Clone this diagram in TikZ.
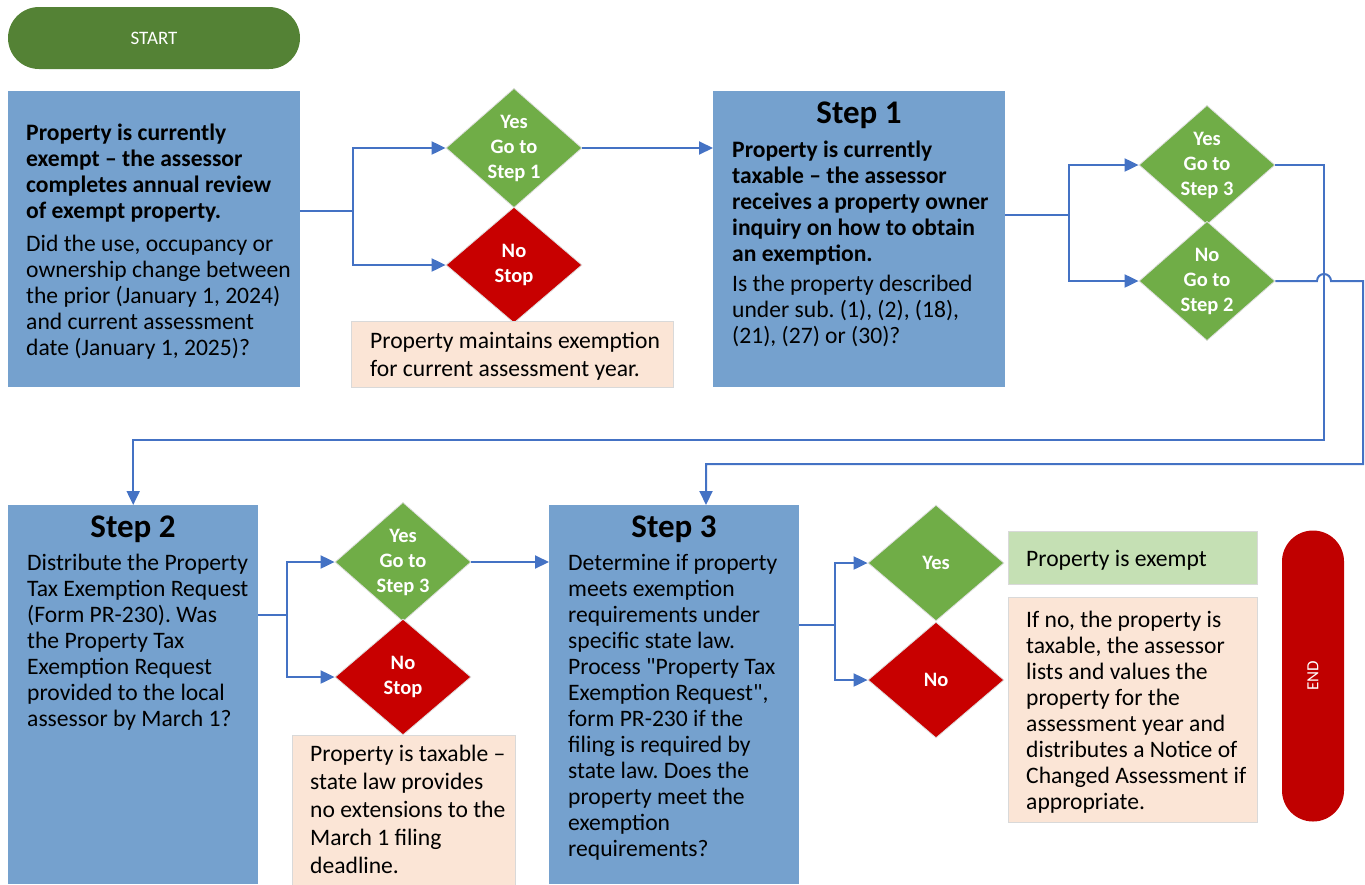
\documentclass[tikz,border=0pt]{standalone}
\usepackage{fontspec}
\setmainfont{Carlito}[Ligatures=TeXOff]
\usepackage{tikz}
\usetikzlibrary{calc}
\usetikzlibrary{arrows.meta}
\usetikzlibrary{shapes.geometric}
\frenchspacing
\definecolor{startgreen}{HTML}{548235}
\definecolor{stepblue}{HTML}{75A1CE}
\definecolor{linkblue}{HTML}{4472C4}
\definecolor{yesgreen}{HTML}{70AD47}
\definecolor{nored}{HTML}{C80000}
\definecolor{endred}{HTML}{C00000}
\definecolor{notepeach}{HTML}{FBE5D6}
\definecolor{noteline}{HTML}{D9D9D9}
\definecolor{exemptgreen}{HTML}{C5E0B4}
\tikzset{
  stepbox/.style={fill=stepblue, inner sep=0, anchor=north west},
  notebox/.style={fill=notepeach, draw=noteline, line width=1pt, inner sep=0, anchor=north west},
  pill/.style={rounded corners=31pt, inner sep=0, text=white, font=\fontsize{19}{22}\selectfont},
  body/.style={anchor=north west, align=left, inner sep=0, font=\fontsize{23.6}{26}\selectfont},
  steptitle/.style={inner sep=0, font=\fontsize{33}{38}\selectfont\bfseries},
  choice/.style={diamond, draw=black!12, line width=0.8pt, minimum width=136pt, minimum height=116pt, inner sep=0, text=white, align=center, font=\fontsize{20.5}{25}\selectfont\bfseries},
  yesdia/.style={choice, fill=yesgreen},
  nodia/.style={choice, fill=nored},
  link/.style={draw=linkblue, line width=2pt, -{Triangle[length=14pt,width=13pt]}},
  wire/.style={draw=linkblue, line width=2pt},
}

\begin{document}
\begin{tikzpicture}[x=1pt,y=-1pt]
\useasboundingbox (0,0) rectangle (1365,884);
\clip (0,0) rectangle (1365,884);

% top row
\node[pill, fill=startgreen, minimum width=292pt, minimum height=62pt] (start) at (154,38) {START};
\node[stepbox, minimum width=292pt, minimum height=296pt] (review) at (8,91) {};
\node[body] (reviewtxt) at (26,124) {\textbf{Property is currently}\\\textbf{exempt – the assessor}\\\textbf{completes annual review}\\\textbf{of exempt property.}\\[7pt]Did the use, occupancy or\\ownership change between\\the prior (January 1, 2024)\\and current assessment\\date (January 1, 2025)?};

\node[yesdia] (yes1) at (514,148) {Yes\\Go to\\Step 1};
\node[nodia] (no1) at (514,265) {No\\Stop};
\node[notebox, minimum width=322pt, minimum height=66pt] (keep) at (351,321) {};
\node[body, font=\fontsize{23.6}{28}\selectfont] (keeptxt) at (370,332) {Property maintains exemption\\for current assessment year.};

\node[stepbox, minimum width=292pt, minimum height=296pt] (step1) at (713,91) {};
\node[steptitle] (title1) at (859,115) {Step 1};
\node[body] (step1txt) at (732,141) {\textbf{Property is currently}\\\textbf{taxable – the assessor}\\\textbf{receives a property owner}\\\textbf{inquiry on how to obtain}\\\textbf{an exemption.}\\[4pt]Is the property described\\under sub. (1), (2), (18),\\(21), (27) or (30)?};

\node[yesdia] (yes3) at (1207,165) {Yes\\Go to\\Step 3};
\node[yesdia] (no2) at (1207,281) {No\\Go to\\Step 2};

% bottom row
\node[stepbox, minimum width=250pt, minimum height=379pt] (step2) at (8,505) {};
\node[steptitle] (title2) at (133,529) {Step 2};
\node[body] (step2txt) at (27,554) {Distribute the Property\\Tax Exemption Request\\(Form PR-230). Was\\the Property Tax\\Exemption Request\\provided to the local\\assessor by March 1?};

\node[yesdia] (yes2b) at (403,562) {Yes\\Go to\\Step 3};
\node[nodia] (no2b) at (403,677) {No\\Stop};
\node[notebox, minimum width=223pt, minimum height=160pt] (taxable) at (292,735) {};
\node[body, font=\fontsize{23.6}{28}\selectfont] (taxabletxt) at (310,745) {Property is taxable –\\state law provides\\no extensions to the\\March 1 filing\\deadline.};

\node[stepbox, minimum width=250pt, minimum height=379pt] (step3) at (549,505) {};
\node[steptitle] (title3) at (674,529) {Step 3};
\node[body] (step3txt) at (568,554) {Determine if property\\meets exemption\\requirements under\\specific state law.\\Process "Property Tax\\Exemption Request",\\form PR-230 if the\\filing is required by\\state law. Does the\\property meet the\\exemption\\requirements?};

\node[yesdia] (yesE) at (936,563) {Yes};
\node[nodia] (noE) at (936,680) {No};
\node[notebox, fill=exemptgreen, minimum width=249pt, minimum height=53pt] (exempt) at (1008,531) {};
\node[body, anchor=west] (exempttxt) at (1026,560) {Property is exempt};
\node[notebox, minimum width=249pt, minimum height=225pt] (listed) at (1008,597) {};
\node[body] (listedtxt) at (1026,611) {If no, the property is\\taxable, the assessor\\lists and values the\\property for the\\assessment year and\\distributes a Notice of\\Changed Assessment if\\appropriate.};
\node[pill, fill=endred, minimum width=291pt, minimum height=62pt, rotate=90, font=\fontsize{17}{20}\selectfont] (end) at (1313,676) {END};

% connectors
\coordinate (forkA) at (353,211);
\draw[wire] (review.east |- forkA) -- (forkA);
\draw[link] (forkA) |- (yes1.west);
\draw[link] (forkA) |- (no1.west);
\draw[link] (yes1.east) -- (step1.west |- yes1.east);

\coordinate (forkB) at (1069,215);
\draw[wire] (step1.east |- forkB) -- (forkB);
\draw[link] (forkB) |- (yes3.west);
\draw[link] (forkB) |- (no2.west);

\coordinate (backA) at (1324,440);
\draw[link] (yes3.east) -| (backA) -| (step2.north);
\coordinate (backB) at (1363,464);
\coordinate (dropB) at (706,464);
\draw[link] (no2.east) -- (1317,281) arc[start angle=180, end angle=360, radius=7] -- (backB |- no2.east) -- (backB) -- (dropB) -- (dropB |- step3.north);

\coordinate (forkC) at (287,615);
\draw[wire] (step2.east |- forkC) -- (forkC);
\draw[link] (forkC) |- (yes2b.west);
\draw[link] (forkC) |- (no2b.west);
\draw[link] (yes2b.east) -- (step3.west |- yes2b.east);

\coordinate (forkD) at (835,625);
\draw[wire] (step3.east |- forkD) -- (forkD);
\draw[link] (forkD) |- (yesE.west);
\draw[link] (forkD) |- (noE.west);
\end{tikzpicture}
\end{document}
